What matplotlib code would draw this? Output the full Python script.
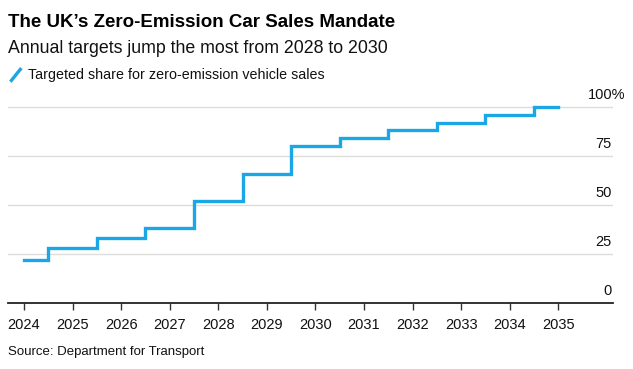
"""UK zero-emission car sales mandate: stepped target share by year."""

import matplotlib

matplotlib.use("Agg")

import matplotlib.pyplot as plt  # noqa: E402
import matplotlib.transforms as mtransforms  # noqa: E402

years = [2024, 2025, 2026, 2027, 2028, 2029, 2030, 2031, 2032, 2033, 2034, 2035]
target_share = [22, 28, 33, 38, 52, 66, 80, 84, 88, 92, 96, 100]
y_ticks = [0, 25, 50, 75, 100]

BLUE = "#1ba6e6"
plt.rcParams["font.family"] = ["Liberation Sans", "DejaVu Sans"]

fig = plt.figure(figsize=(6.33, 3.69), dpi=100)
ax = fig.add_axes([0.0126, 0.179, 0.956, 0.558])

ax.plot(years, target_share, drawstyle="steps-mid", color=BLUE, linewidth=2.4,
        solid_joinstyle="miter")

ax.set_xlim(2023.67, 2036.13)
ax.set_ylim(0, 105)
ax.set_xticks(years)
ax.set_xticklabels([str(y) for y in years], fontsize=10.5, color="#111111")
ax.tick_params(axis="x", length=5, width=1, color="#333333", pad=6)
ax.set_yticks([])

for side in ("top", "right", "left"):
    ax.spines[side].set_visible(False)
ax.spines["bottom"].set_color("#222222")
ax.spines["bottom"].set_linewidth(1.3)

# horizontal grid lines with labels sitting on top of them at the right edge
trans = mtransforms.blended_transform_factory(ax.transAxes, ax.transData)
for v in y_ticks:
    if v > 0:
        ax.axhline(v, color="#dddddd", linewidth=1, zorder=0)
    if v == y_ticks[-1]:
        # "100" right-aligned like the others, "%" hanging past the edge
        ax.annotate(f"{v}%", xy=(0.998, v + 2.5), xycoords=trans,
                    xytext=(-17.5, 0), textcoords="offset points",
                    ha="left", va="bottom", fontsize=10.5, color="#111111")
    else:
        ax.text(0.998, v + 2.5, str(v), transform=trans, ha="right", va="bottom",
                fontsize=10.5, color="#111111")

fig.text(0.013, 0.94, "The UK\u2019s Zero-Emission Car Sales Mandate",
         fontsize=13.5, fontweight="bold", va="center", color="#000000")
fig.text(0.013, 0.868, "Annual targets jump the most from 2028 to 2030",
         fontsize=12.8, va="center", color="#111111")
fig.lines.append(plt.Line2D([0.018, 0.032], [0.782, 0.812], transform=fig.transFigure,
                            color=BLUE, linewidth=2.4))
fig.text(0.044, 0.797, "Targeted share for zero-emission vehicle sales",
         fontsize=10.3, va="center", color="#111111")
fig.text(0.013, 0.045, "Source: Department for Transport",
         fontsize=9.5, va="center", color="#111111")

fig.savefig("out.png", dpi=100)
